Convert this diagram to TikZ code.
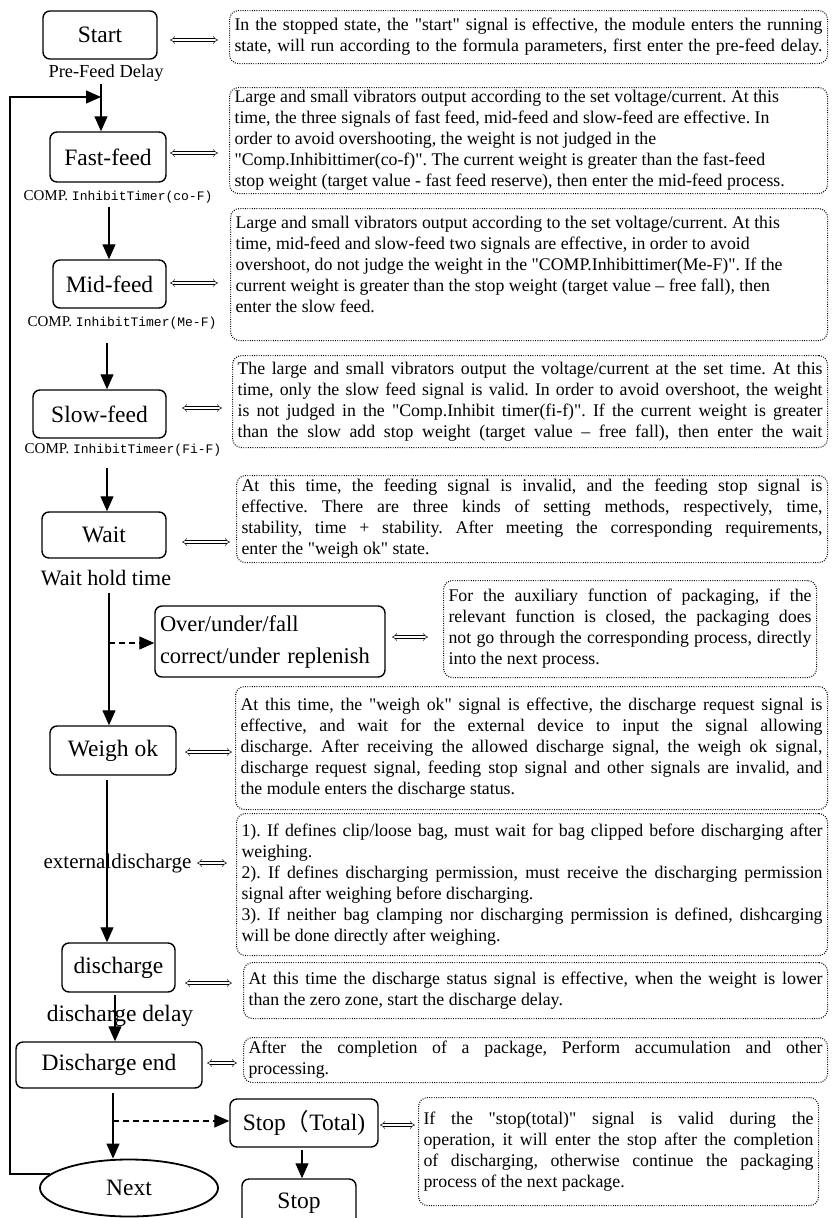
\documentclass[tikz,border=0pt]{standalone}
\usepackage{fontspec}
\setmainfont{Liberation Serif}[Ligatures=TeXOff]
\newfontfamily\mono{Liberation Mono}
\newfontfamily\cjk{Noto Sans CJK SC}
\usetikzlibrary{arrows.meta,shapes.geometric}
\newcommand{\J}[1]{\hbox to\hsize{#1}}
\newcommand{\R}[1]{\hbox to\hsize{#1\hfil}}
\newcommand{\NB}[2]{\vbox{\hsize=#1\relax\frenchspacing #2}}
\tikzset{
  box/.style={draw, rounded corners=7pt, line width=1.4pt, inner sep=0pt,
    font=\fontsize{23.5}{26}\selectfont},
  lbl/.style={inner sep=0pt},
  comp/.style={inner sep=0pt, font=\fontsize{15}{17}\selectfont},
  arr/.style={-{Triangle[width=13pt,length=15pt]}, line width=1.2pt},
  dsh/.style={dash pattern=on 6pt off 4pt},
  dbl/.style={double, double distance=2.2pt, line width=0.45pt, {Implies}-{Implies}},
  note/.style={draw, dash pattern=on 0.9pt off 1.4pt, line width=1.1pt, rounded corners=9pt,
    anchor=north west, inner xsep=0pt, inner ysep=2pt,
    font=\fontsize{17.8}{21}\selectfont\frenchspacing}
}
\begin{document}
\begin{tikzpicture}[x=1pt, y=-1pt]
\useasboundingbox (0,0) rectangle (831,1218);
% ---------- left column ----------
\node[box, minimum width=114, minimum height=48] (start) at (100,35) {Start};
\node[lbl, font=\fontsize{18.4}{20}\selectfont] (pfd) at (106,73) {Pre-Feed Delay};
\node[box, minimum width=116, minimum height=50] (ff) at (108,157) {Fast-feed};
\node[comp] (c1) at (118,197) {COMP. {\mono\fontsize{13}{15}\selectfont InhibitTimer(co-F)}};
\node[box, minimum width=113, minimum height=48] (mf) at (109.5,284) {Mid-feed};
\node[comp] (c2) at (122,323) {COMP. {\mono\fontsize{13}{15}\selectfont InhibitTimer(Me-F)}};
\node[box, minimum width=133, minimum height=48] (sf) at (99.5,414) {Slow-feed};
\node[comp] (c3) at (123,450) {COMP. {\mono\fontsize{13}{15}\selectfont InhibitTimeer(Fi-F)}};
\node[box, minimum width=124, minimum height=46] (wait) at (104,535) {Wait};
\node[lbl, font=\fontsize{22}{24}\selectfont] (wht) at (106,578) {Wait hold time};
\node[box, minimum width=230, minimum height=71, text width=220pt, inner xsep=5pt, align=left,
  font=\fontsize{22.5}{32}\selectfont] (over) at (270,641.5) {Over/under/fall\\correct/under replenish};
\node[box, minimum width=126, minimum height=49] (wok) at (113,750.5) {Weigh ok};
\node[lbl, font=\fontsize{21}{23}\selectfont] (ext) at (117.5,863) {externaldischarge};
\node[box, minimum width=113, minimum height=49] (dis) at (118.5,967.5) {discharge};
\node[lbl, font=\fontsize{23.5}{25}\selectfont] (dd) at (120,1016) {discharge delay};
\node[box, minimum width=186, minimum height=46] (dend) at (109,1065) {Discharge end};
\node[box, minimum width=148, minimum height=48] (stt) at (304,1123) {Stop{\cjk （}Total)};
\node[box, minimum width=114, minimum height=49] (stop) at (299,1203.5) {Stop};
\node[draw, ellipse, line width=1.8pt, minimum width=178, minimum height=57, inner sep=0pt,
  font=\fontsize{23.5}{26}\selectfont] (next) at (129,1188) {Next};
% ---------- connectors ----------
\coordinate (a0) at (101,84);
\coordinate (j) at (101,97);
\coordinate (lp) at (10,97);
\draw[line width=1.2pt] (a0) -- (j);
\draw[arr] (j) -- (j |- ff.north);
\draw[arr] (next.170) -| (lp) -- (j);
\coordinate (a1) at (109,207); \draw[arr] (a1) -- (a1 |- mf.north);
\coordinate (a2) at (107,343); \draw[arr] (a2) -- (a2 |- sf.north);
\coordinate (a3) at (107,468); \draw[arr] (a3) -- (a3 |- wait.north);
\coordinate (a4) at (109,593); \draw[arr] (a4) -- (a4 |- wok.north);
\coordinate (b4) at (109,643); \draw[arr, dsh] (b4) -- (b4 -| over.west);
\coordinate (a5) at (107,780); \draw[arr] (a5) -- (a5 |- dis.north);
\coordinate (a6) at (115,995); \draw[arr] (a6) -- (a6 |- dend.north);
\coordinate (a7) at (113,1093); \draw[arr] (a7) -- (a7 |- next.north);
\coordinate (b7) at (113,1121); \draw[arr, dsh] (b7) -- (b7 -| stt.west);
\coordinate (a8) at (302,1150); \draw[arr] (a8) -- (a8 |- stop.north);
% ---------- notes ----------
\node[note, minimum width=598, minimum height=53] (n1) at (229,10) {\NB{588pt}{%
\J{In the stopped state, the "start" signal is effective, the module enters the running}%
\J{state, will run according to the formula parameters, first enter the pre-feed delay.}}};
\node[note, minimum width=598, minimum height=106] (n2) at (229,87) {\NB{588pt}{%
\R{Large and small vibrators output according to the set voltage/current. At this}%
\R{time, the three signals of fast feed, mid-feed and slow-feed are effective. In}%
\R{order to avoid overshooting, the weight is not judged in the}%
\R{"Comp.Inhibittimer(co-f)". The current weight is greater than the fast-feed}%
\R{stop weight (target value - fast feed reserve), then enter the mid-feed process.}}};
\node[note, minimum width=597, minimum height=132] (n3) at (230,208) {\NB{587pt}{%
\R{Large and small vibrators output according to the set voltage/current. At this}%
\R{time, mid-feed and slow-feed two signals are effective, in order to avoid}%
\R{overshoot, do not judge the weight in the "COMP.Inhibittimer(Me-F)". If the}%
\R{current weight is greater than the stop weight (target value – free fall), then}%
\R{enter the slow feed.}\vskip 20pt}};
\node[note, minimum width=595, minimum height=92] (n4) at (232,355) {\NB{585pt}{%
\J{The large and small vibrators output the voltage/current at the set time. At this}%
\J{time, only the slow feed signal is valid. In order to avoid overshoot, the weight}%
\J{is not judged in the "Comp.Inhibit timer(fi-f)". If the current weight is greater}%
\J{than the slow add stop weight (target value – free fall), then enter the wait}}};
\node[note, minimum width=591, minimum height=87] (n5) at (236,475) {\NB{581pt}{%
\J{At this time, the feeding signal is invalid, and the feeding stop signal is}%
\J{effective. There are three kinds of setting methods, respectively, time,}%
\J{stability, time + stability. After meeting the corresponding requirements,}%
\R{enter the "weigh ok" state.}}};
\node[note, minimum width=373, minimum height=97] (n6) at (443,580) {\NB{363pt}{%
\J{For the auxiliary function of packaging, if the}%
\J{relevant function is closed, the packaging does}%
\J{not go through the corresponding process, directly}%
\R{into the next process.}}};
\node[note, minimum width=592, minimum height=123] (n7) at (235,686) {\NB{582pt}{%
\J{At this time, the "weigh ok" signal is effective, the discharge request signal is}%
\J{effective, and wait for the external device to input the signal allowing}%
\J{discharge. After receiving the allowed discharge signal, the weigh ok signal,}%
\J{discharge request signal, feeding stop signal and other signals are invalid, and}%
\R{the module enters the discharge status.}}};
\node[note, minimum width=591, minimum height=142] (n8) at (236,813) {\NB{581pt}{%
\J{1). If defines clip/loose bag, must wait for bag clipped before discharging after}%
\R{weighing.}%
\J{2). If defines discharging permission, must receive the discharging permission}%
\R{signal after weighing before discharging.}%
\J{3). If neither bag clamping nor discharging permission is defined, dishcarging}%
\R{will be done directly after weighing.}}};
\node[note, minimum width=584, minimum height=56] (n9) at (243,962) {\NB{574pt}{%
\J{At this time the discharge status signal is effective, when the weight is lower}%
\R{than the zero zone, start the discharge delay.}}};
\node[note, minimum width=584, minimum height=45] (n10) at (243,1037) {\NB{574pt}{%
\J{After the completion of a package, Perform accumulation and other}%
\R{processing.}}};
\node[note, minimum width=400, minimum height=108] (n11) at (418,1097) {\NB{390pt}{%
\J{If the "stop(total)" signal is valid during the}%
\J{operation, it will enter the stop after the completion}%
\J{of discharging, otherwise continue the packaging}%
\R{process of the next package.}}};
% ---------- double arrows ----------
\coordinate (d1a) at (170,40);   \coordinate (d1b) at (218,40);   \draw[dbl] (d1a) -- (d1b);
\coordinate (d2a) at (170,153);  \coordinate (d2b) at (218,153);  \draw[dbl] (d2a) -- (d2b);
\coordinate (d3a) at (170,283);  \coordinate (d3b) at (218,283);  \draw[dbl] (d3a) -- (d3b);
\coordinate (d4a) at (182,408);  \coordinate (d4b) at (222,408);  \draw[dbl] (d4a) -- (d4b);
\coordinate (d5a) at (182,542);  \coordinate (d5b) at (230,542);  \draw[dbl] (d5a) -- (d5b);
\coordinate (d6a) at (392,637);  \coordinate (d6b) at (428,637);  \draw[dbl] (d6a) -- (d6b);
\coordinate (d7a) at (185,752);  \coordinate (d7b) at (232,752);  \draw[dbl] (d7a) -- (d7b);
\coordinate (d8a) at (197,863);  \coordinate (d8b) at (227,863);  \draw[dbl] (d8a) -- (d8b);
\coordinate (d9a) at (185,983);  \coordinate (d9b) at (232,983);  \draw[dbl] (d9a) -- (d9b);
\coordinate (d10a) at (207,1063); \coordinate (d10b) at (237,1063); \draw[dbl] (d10a) -- (d10b);
\coordinate (d11a) at (380,1125); \coordinate (d11b) at (415,1125); \draw[dbl] (d11a) -- (d11b);
\end{tikzpicture}
\end{document}
